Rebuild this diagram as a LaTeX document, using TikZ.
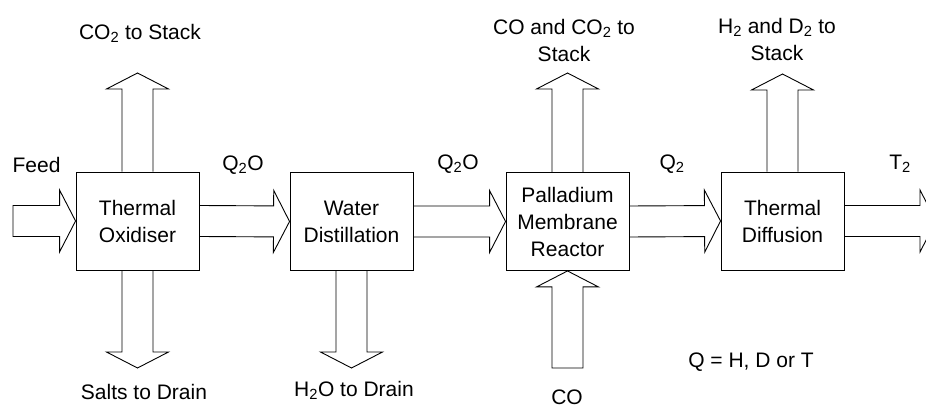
\documentclass[tikz,border=0pt]{standalone}
\usepackage{fontspec}
\setmainfont{Liberation Sans}
\usetikzlibrary{calc}

\newcommand{\fatarrow}[3][]{%
  \coordinate (hb) at ($(#3)!16pt!(#2)$);
  \draw[flow] ($(#2)!15.5pt!90:(#3)$) -- ($(hb)!15.5pt!90:(#3)$)
    -- ($(hb)!31pt!90:(#3)$) -- (#3) -- ($(hb)!31pt!-90:(#3)$)
    -- ($(hb)!15.5pt!-90:(#3)$) -- ($(#2)!15.5pt!-90:(#3)$) #1;}

\begin{document}
\begin{tikzpicture}[x=1pt,y=-1pt,
    every node/.style={font=\fontsize{21}{27}\selectfont, align=center},
    unit/.style={draw, line width=.9pt, minimum width=123pt, minimum height=98pt, inner sep=0pt},
    flow/.style={line width=.9pt, line join=miter}]
    \clip (0,0) rectangle (926,411);
    \node[unit] (TO) at (137.5,221)
    {Thermal\\Oxidiser}; \node[unit] (WD) at (351.5,221.5)
    {Water\\Distillation}; \node[unit] (PMR) at (567.5,221.5)
    {Palladium\\Membrane\\Reactor}; \node[unit] (TD) at (782.5,221)
    {Thermal\\Diffusion};
    \coordinate (feedin) at (13,221);
    \coordinate (TOup) at (137.5,73);
    \coordinate (TOdn) at (137.5,368);
    \coordinate (WDdn) at (351.5,368);
    \coordinate (PMRup) at (567.5,73);
    \coordinate (COin) at (567.5,368);
    \coordinate (TDup) at (782.5,74);
    \coordinate (T2out) at (936,221);
    \fatarrow[-- cycle]{feedin}{TO.west}
    \fatarrow{TO.east}{WD.west}
    \fatarrow{WD.east}{PMR.west}
    \fatarrow{PMR.east}{TD.west}
    \fatarrow{TD.east}{T2out}
    \fatarrow{TO.north}{TOup}
    \fatarrow{TO.south}{TOdn}
    \fatarrow{WD.south}{WDdn}
    \fatarrow{PMR.north}{PMRup}
    \fatarrow[-- cycle]{COin}{PMR.south}
    \fatarrow{TD.north}{TDup}
    \node (feed) at (36.5,165) {Feed};
    \node (q2o1) at (243,165) {Q\textsubscript{2}O};
    \node (q2o2) at (458,164) {Q\textsubscript{2}O};
    \node (q2) at (672,164) {Q\textsubscript{2}};
    \node (t2) at (900,164) {T\textsubscript{2}};
    \node (co2stack) at (140,33) {CO\textsubscript{2} to Stack};
    \node (costack) at (564,40) {CO and CO\textsubscript{2} to\\Stack};
    \node (hdstack) at (777,39) {H\textsubscript{2} and D\textsubscript{2} to\\Stack};
    \node (salts) at (144,392) {Salts to Drain};
    \node (h2o) at (354,390) {H\textsubscript{2}O to Drain};
    \node (co) at (567,397) {CO};
    \node (key) at (751,362) {Q = H, D or T};
  \end{tikzpicture}
\end{document}
